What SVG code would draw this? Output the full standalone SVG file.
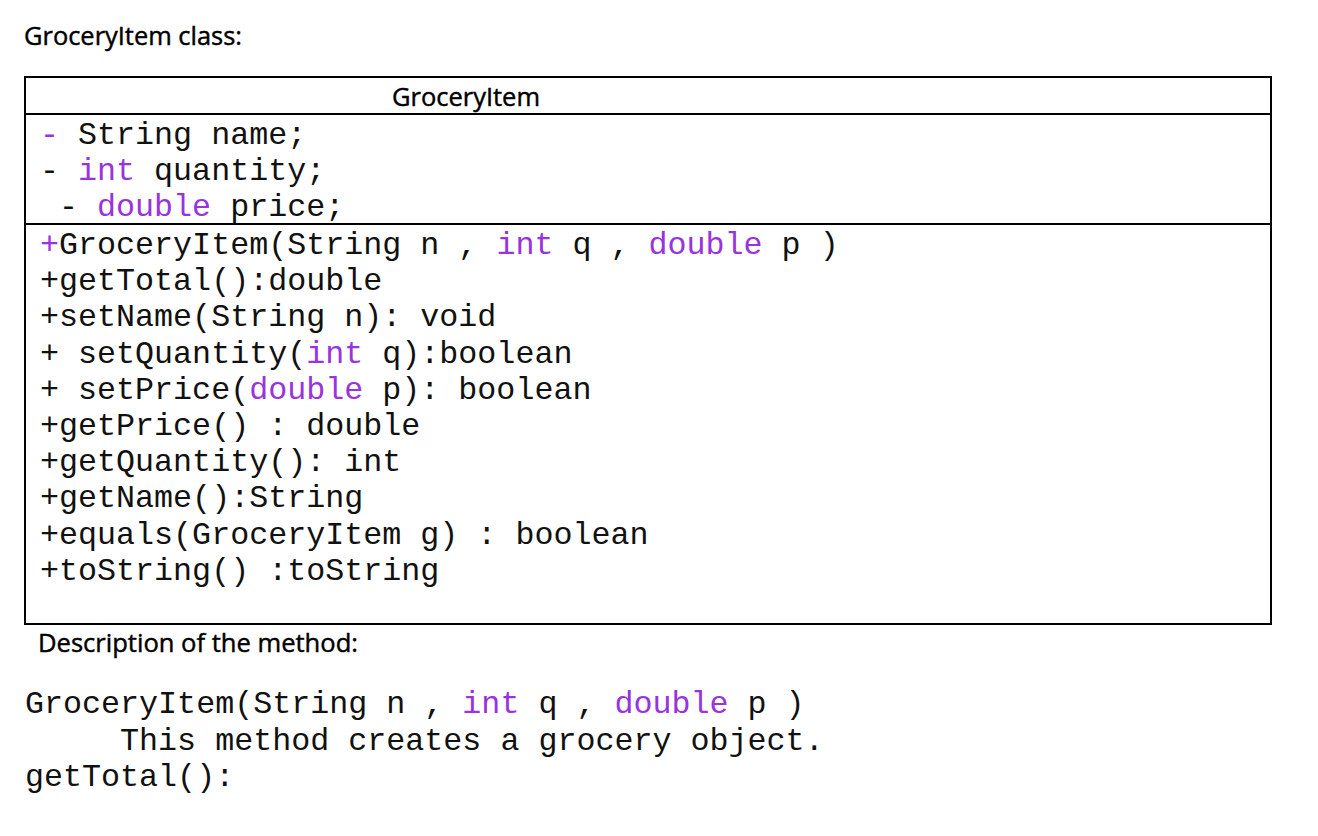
<svg xmlns="http://www.w3.org/2000/svg" width="1318" height="836" viewBox="0 0 1318 836" xml:space="preserve">
<style>
.sans{font-family:"Open Sans","Noto Sans","Liberation Sans",sans-serif;font-size:26px;font-weight:400;fill:#000;stroke:#000;stroke-width:0.45}
.mono{font-family:"Liberation Mono","DejaVu Sans Mono",monospace;font-size:31.7px;fill:#111;white-space:pre}
.p{fill:#9933dd}
.box{fill:#fff;stroke:#000;stroke-width:2}
.sep{stroke:#000;stroke-width:2}
</style>
<rect width="1318" height="836" fill="#fff"/>
<text class="sans" x="24" y="45" textLength="218" lengthAdjust="spacingAndGlyphs">GroceryItem class:</text>
<g id="class-GroceryItem">
<rect class="box" x="25" y="77" width="1246" height="547"/>
<line class="sep" x1="25" y1="114" x2="1271" y2="114"/>
<line class="sep" x1="25" y1="224" x2="1271" y2="224"/>
<text class="sans" x="392" y="106" textLength="148" lengthAdjust="spacingAndGlyphs">GroceryItem</text>
<g id="attributes">
<text class="mono" x="40" y="144"><tspan class="p">-</tspan> String name;</text>
<text class="mono" x="40" y="180">- <tspan class="p">int</tspan> quantity;</text>
<text class="mono" x="40" y="216"> - <tspan class="p">double</tspan> price;</text>
</g>
<g id="methods">
<text class="mono" x="40" y="254"><tspan class="p">+</tspan>GroceryItem(String n , <tspan class="p">int</tspan> q , <tspan class="p">double</tspan> p )</text>
<text class="mono" x="40" y="290">+getTotal():double</text>
<text class="mono" x="40" y="326">+setName(String n): void</text>
<text class="mono" x="40" y="363">+ setQuantity(<tspan class="p">int</tspan> q):boolean</text>
<text class="mono" x="40" y="399">+ setPrice(<tspan class="p">double</tspan> p): boolean</text>
<text class="mono" x="40" y="435">+getPrice() : double</text>
<text class="mono" x="40" y="471">+getQuantity(): int</text>
<text class="mono" x="40" y="507">+getName():String</text>
<text class="mono" x="40" y="544">+equals(GroceryItem g) : boolean</text>
<text class="mono" x="40" y="580">+toString() :toString</text>
</g>
</g>
<g id="description">
<text class="sans" x="38" y="652" textLength="320" lengthAdjust="spacingAndGlyphs">Description of the method:</text>
<text class="mono" x="25" y="713">GroceryItem(String n , <tspan class="p">int</tspan> q , <tspan class="p">double</tspan> p )</text>
<text class="mono" x="25" y="750">     This method creates a grocery object.</text>
<text class="mono" x="25" y="786">getTotal():</text>
</g>
</svg>
